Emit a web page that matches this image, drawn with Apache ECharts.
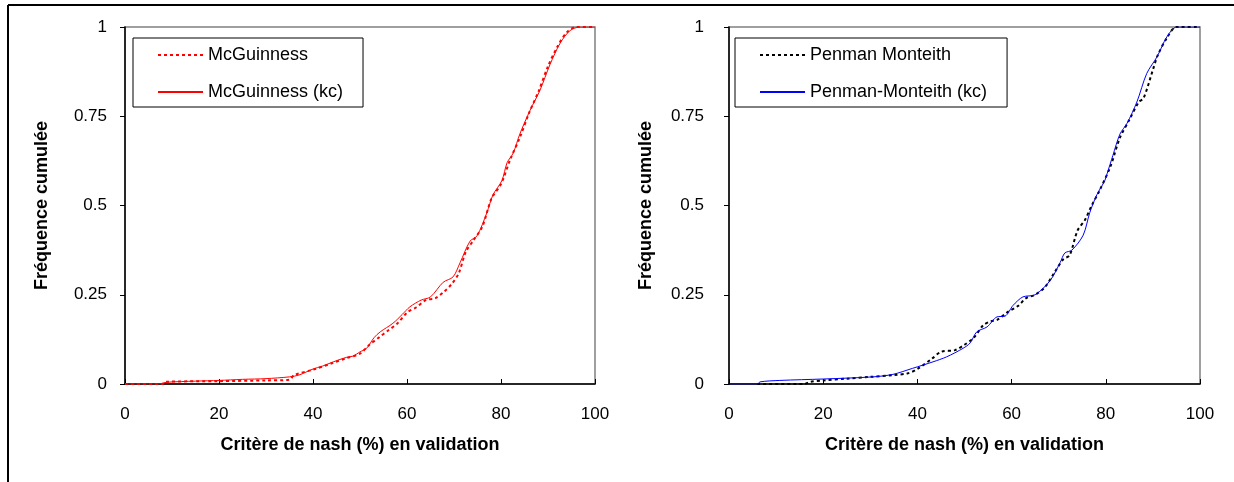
<!DOCTYPE html>
<html>
<head>
<meta charset="utf-8">
<script src="https://cdn.jsdelivr.net/npm/echarts@6/dist/echarts.min.js"></script>
<style>
  html, body { margin: 0; padding: 0; background: #fff; }
  #chart { width: 1234px; height: 482px; }
</style>
</head>
<body>
<div id="chart"></div>
<script>
// [nash %, cumulative frequency]
const mcguinness = [[0, 0], [8, 0], [8.5, 0.006], [20, 0.008], [30, 0.01], [35, 0.012], [36, 0.025], [40, 0.04], [44, 0.058], [47, 0.072], [50, 0.085], [52, 0.11], [54, 0.13], [56, 0.15], [58, 0.17], [60, 0.2], [62, 0.215], [64, 0.235], [66, 0.24], [68, 0.26], [69.5, 0.28], [71, 0.31], [72.5, 0.37], [74, 0.4], [76, 0.44], [78, 0.52], [80, 0.56], [82, 0.63], [84, 0.69], [86, 0.76], [88, 0.82], [90, 0.89], [92, 0.945], [94, 0.985], [96, 1], [100, 1]];
const mcguinnessKc = [[0, 0], [7, 0], [9, 0.005], [15, 0.008], [20, 0.01], [25, 0.013], [30, 0.015], [35, 0.02], [37, 0.025], [40, 0.042], [42, 0.05], [44.3, 0.062], [47.2, 0.075], [48.5, 0.078], [50, 0.09], [51.4, 0.1], [53, 0.13], [54.3, 0.146], [57, 0.17], [59, 0.195], [60.6, 0.216], [63, 0.235], [65, 0.244], [67.7, 0.285], [69.8, 0.3], [71.3, 0.34], [73.4, 0.4], [74.9, 0.415], [77, 0.48], [78.3, 0.53], [80.2, 0.57], [81.3, 0.62], [82.6, 0.647], [84, 0.7], [86.2, 0.767], [88.3, 0.823], [90.4, 0.894], [92.6, 0.955], [94.7, 0.99], [96.8, 1], [100, 1]];
const penman = [[6, 0], [16, 0], [17.2, 0.006], [20, 0.01], [25, 0.015], [30, 0.02], [35, 0.025], [38, 0.03], [40, 0.042], [43, 0.07], [45, 0.09], [48, 0.095], [50, 0.11], [52, 0.13], [54, 0.165], [55.5, 0.175], [57, 0.18], [59, 0.2], [61.5, 0.22], [63, 0.24], [65, 0.25], [67, 0.27], [69, 0.31], [71, 0.35], [72.3, 0.36], [74, 0.43], [75.6, 0.46], [77, 0.5], [78.6, 0.54], [81, 0.61], [83, 0.69], [85, 0.74], [87, 0.79], [88, 0.8], [90, 0.88], [91, 0.92], [93, 0.97], [95, 1], [100, 1]];
const penmanKc = [[0, 0], [6, 0], [6.6, 0.006], [10.8, 0.01], [20, 0.014], [30.6, 0.02], [34.8, 0.027], [39, 0.044], [43.3, 0.062], [46.2, 0.076], [49.7, 0.1], [51.2, 0.115], [52.6, 0.146], [54.8, 0.16], [56.9, 0.188], [58.6, 0.19], [60.3, 0.22], [62.4, 0.244], [65, 0.25], [68.2, 0.29], [70.3, 0.34], [71.3, 0.367], [72.8, 0.375], [75.2, 0.417], [76.6, 0.48], [78.1, 0.53], [79.8, 0.57], [80.3, 0.59], [81.5, 0.64], [83, 0.7], [84.5, 0.73], [86.6, 0.79], [88.7, 0.87], [90.9, 0.917], [93, 0.973], [95.1, 1], [100, 1]];

const seriesNames = ['McGuinness', 'McGuinness (kc)', 'Penman Monteith', 'Penman-Monteith (kc)'];
const xTitle = 'Critère de nash (%) en validation';
const yTitle = 'Fréquence cumulée';

const FONT = '"Liberation Sans", Arial, sans-serif';

function xAxisFor(idx) {
  return {
    gridIndex: idx, type: 'value', min: 0, max: 100, interval: 20,
    name: xTitle, nameLocation: 'middle', nameGap: 52,
    nameTextStyle: { fontFamily: FONT, fontSize: 18, fontWeight: 'bold', color: '#000' },
    axisLine: { onZero: false, lineStyle: { color: '#000', width: 1.5 } },
    axisTick: { inside: true, length: 5, lineStyle: { color: '#000' } },
    axisLabel: { margin: 22, fontFamily: FONT, fontSize: 17, color: '#000' },
    splitLine: { show: false }
  };
}
function yAxisFor(idx, labelGap) {
  return {
    gridIndex: idx, type: 'value', min: 0, max: 1, interval: 0.25,
    name: yTitle, nameLocation: 'middle', nameGap: 74,
    nameTextStyle: { fontFamily: FONT, fontSize: 18, fontWeight: 'bold', color: '#000' },
    axisLine: { onZero: false, lineStyle: { color: '#000', width: 1.5 } },
    axisTick: { inside: false, length: 5, lineStyle: { color: '#000' } },
    axisLabel: { margin: labelGap, fontFamily: FONT, fontSize: 17, color: '#000' },
    splitLine: { show: false }
  };
}
function lineSeries(name, data, idx, color, dotted) {
  return {
    name: name, type: 'line', xAxisIndex: idx, yAxisIndex: idx,
    data: data, symbol: 'none', showSymbol: false, smooth: 0.3, animation: false,
    lineStyle: { color: color, width: dotted ? 2 : 1, type: dotted ? [3, 3] : 'solid' },
    itemStyle: { color: color }
  };
}
function legendFor(left, names) {
  return {
    left: left, top: 38, orient: 'vertical',
    data: names, itemWidth: 45, itemHeight: 14, itemGap: 19,
    padding: [8, 20, 6, 24], borderColor: '#000', borderWidth: 1,
    itemStyle: { opacity: 0, borderWidth: 0 },
    textStyle: { fontFamily: FONT, fontSize: 18, color: '#000' }
  };
}

const chart = echarts.init(document.getElementById('chart'), null, { renderer: 'canvas' });
chart.setOption({
  backgroundColor: '#fff',
  animation: false,
  grid: [
    { left: 125, top: 27, width: 470, height: 357, show: true, borderColor: '#808080', borderWidth: 1.5, backgroundColor: 'transparent' },
    { left: 729, top: 27, width: 471, height: 357, show: true, borderColor: '#808080', borderWidth: 1.5, backgroundColor: 'transparent' }
  ],
  xAxis: [xAxisFor(0), xAxisFor(1)],
  yAxis: [yAxisFor(0, 18), yAxisFor(1, 25)],
  legend: [
    legendFor(133, [seriesNames[0], seriesNames[1]]),
    legendFor(735, [seriesNames[2], seriesNames[3]])
  ],
  graphic: [
    { type: 'line', shape: { x1: 8, y1: 5, x2: 1234, y2: 5 }, style: { stroke: '#000', lineWidth: 2 } },
    { type: 'line', shape: { x1: 8, y1: 5, x2: 8, y2: 482 }, style: { stroke: '#000', lineWidth: 2 } }
  ],
  series: [
    lineSeries(seriesNames[0], mcguinness, 0, '#ff0000', true),
    lineSeries(seriesNames[1], mcguinnessKc, 0, '#ff0000', false),
    lineSeries(seriesNames[2], penman, 1, '#000000', true),
    lineSeries(seriesNames[3], penmanKc, 1, '#0000ff', false)
  ]
});
</script>
</body>
</html>
